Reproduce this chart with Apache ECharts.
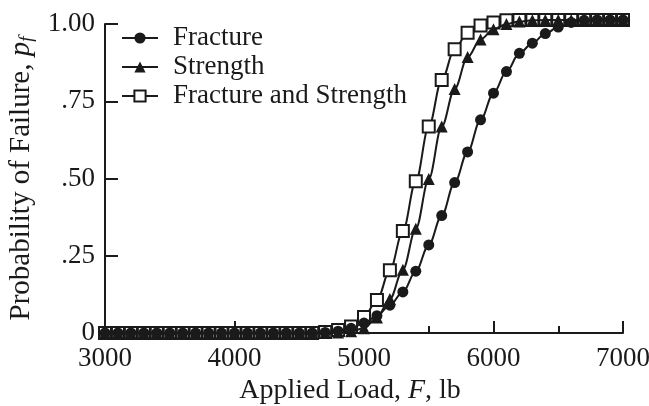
<!DOCTYPE html>
<html>
<head>
<meta charset="utf-8">
<script src="https://cdn.jsdelivr.net/npm/echarts@6/dist/echarts.min.js"></script>
<style>
  html, body { margin: 0; padding: 0; background: #fff; }
  #chart { width: 649px; height: 406px; }
</style>
</head>
<body>
<div id="chart"></div>
<script>
// Applied load, lb
const loads = [];
for (let f = 3000; f <= 7000; f += 100) loads.push(f);

// Probability of failure for each load
const fracture = [
  0, 0, 0, 0, 0, 0, 0, 0, 0, 0,           // 3000-3900
  0, 0, 0, 0, 0, 0, 0, 0.002, 0.006, 0.015, // 4000-4900
  0.032, 0.056, 0.09, 0.133, 0.2, 0.285, 0.38, 0.487, 0.586, 0.69, // 5000-5900
  0.776, 0.846, 0.905, 0.938, 0.969, 0.99, 1.005, 1.012, 1.013, 1.013, // 6000-6900
  1.013                                    // 7000
];
const strength = [
  0, 0, 0, 0, 0, 0, 0, 0, 0, 0,
  0, 0, 0, 0, 0, 0, 0, 0, 0.002, 0.006,
  0.015, 0.05, 0.11, 0.205, 0.337, 0.498, 0.668, 0.79, 0.893, 0.95,
  0.983, 1.0, 1.008, 1.012, 1.013, 1.013, 1.013, 1.013, 1.013, 1.013,
  1.013
];
const fractureAndStrength = [
  0, 0, 0, 0, 0, 0, 0, 0, 0, 0,
  0, 0, 0, 0, 0, 0, 0, 0.003, 0.01, 0.021,
  0.052, 0.107, 0.203, 0.33, 0.491, 0.668, 0.819, 0.918, 0.972, 0.995,
  1.005, 1.012, 1.013, 1.013, 1.013, 1.013, 1.013, 1.013, 1.013, 1.013,
  1.013
];

const seriesNames = ['Fracture', 'Strength', 'Fracture and Strength'];
const yTickLabels = { 0: '0', 0.25: '.25', 0.5: '.50', 0.75: '.75', 1: '1.00' };

const FONT = 'Liberation Serif';
const INK = '#1a1a1a';

function pairs(values) {
  return loads.map((f, i) => [f, values[i]]);
}

function lineSeries(name, values, symbol, size, fill, z) {
  return {
    name: name,
    type: 'line',
    z: z,
    data: pairs(values),
    smooth: 0.35,
    smoothMonotone: 'x',
    clip: false,
    symbol: symbol,
    symbolSize: size,
    showAllSymbol: true,
    lineStyle: { color: INK, width: 2 },
    itemStyle: { color: fill, borderColor: INK, borderWidth: fill === '#fff' ? 2 : 0 },
    emphasis: { disabled: true },
    animation: false
  };
}

const chart = echarts.init(document.getElementById('chart'), null, { renderer: 'canvas' });

chart.setOption({
  backgroundColor: '#fff',
  animation: false,
  textStyle: { fontFamily: FONT, color: INK },
  grid: { left: 105, right: 26, top: 24, bottom: 73, containLabel: false, outerBoundsMode: 'none' },
  legend: {
    orient: 'vertical',
    left: 121,
    top: 24,
    padding: 0,
    itemWidth: 36,
    itemHeight: 14,
    itemGap: 1,
    data: seriesNames,
    textStyle: { fontFamily: FONT, fontSize: 27, color: INK, lineHeight: 28, padding: [0, 0, 0, 10] }
  },
  xAxis: {
    type: 'value',
    min: 3000,
    max: 7000,
    interval: 1000,
    name: 'Applied Load, {i|F}, lb',
    nameLocation: 'middle',
    nameGap: 43,
    nameTextStyle: {
      fontFamily: FONT, fontSize: 28, color: INK, padding: [0, 28, 0, 0],
      rich: { i: { fontFamily: FONT, fontSize: 28, fontStyle: 'italic', color: INK } }
    },
    axisLine: { show: true, lineStyle: { color: INK, width: 2 } },
    axisTick: { show: true, inside: true, length: 12, lineStyle: { color: INK, width: 2 } },
    minorTick: { show: true, splitNumber: 2, length: 7, lineStyle: { color: INK, width: 2 } },
    axisLabel: { fontFamily: FONT, fontSize: 27, color: INK, margin: 12, formatter: v => String(v) },
    splitLine: { show: false }
  },
  yAxis: {
    type: 'value',
    min: 0,
    max: 1,
    interval: 0.25,
    name: 'Probability of Failure, {p|p}{f|f}',
    nameLocation: 'middle',
    nameGap: 62,
    nameTextStyle: {
      fontFamily: FONT, fontSize: 29, color: INK, padding: [0, 0, 0, 0],
      rich: {
        p: { fontFamily: FONT, fontSize: 29, fontStyle: 'italic', color: INK },
        f: { fontFamily: FONT, fontSize: 19, fontStyle: 'italic', color: INK, padding: [12, 0, 0, 0] }
      }
    },
    axisLine: { show: true, lineStyle: { color: INK, width: 2 } },
    axisTick: { show: true, inside: true, length: 13, lineStyle: { color: INK, width: 2 } },
    axisLabel: {
      fontFamily: FONT, fontSize: 27, color: INK, margin: 10,
      formatter: v => yTickLabels[v] !== undefined ? yTickLabels[v] : ''
    },
    splitLine: { show: false }
  },
  series: [
    lineSeries(seriesNames[2], fractureAndStrength, 'rect', 12, '#fff', 2),
    lineSeries(seriesNames[1], strength, 'triangle', 12, INK, 3),
    lineSeries(seriesNames[0], fracture, 'circle', 11, INK, 4)
  ]
});
</script>
</body>
</html>
